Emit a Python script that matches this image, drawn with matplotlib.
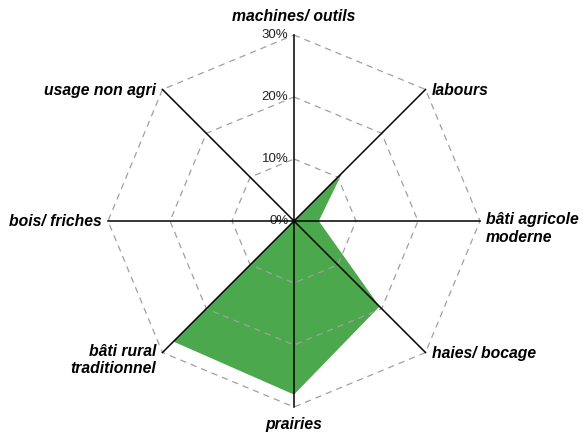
import numpy as np
import matplotlib.pyplot as plt

# radar chart: share of each theme (%)
categories = ["machines/ outils", "labours", "bâti agricole\nmoderne", "haies/ bocage",
              "prairies", "bâti rural\ntraditionnel", "bois/ friches", "usage non agri"]
values = [0, 11, 4, 19.5, 28, 27.5, 0, 0]
rings = [10, 20, 30]
ring_labels = ["0%", "10%", "20%", "30%"]

rmax = rings[-1]
n = len(categories)
# clockwise from the top
ang = np.pi / 2 - np.arange(n) * 2 * np.pi / n
cx, sy = np.cos(ang), np.sin(ang)

fig = plt.figure(figsize=(5.84, 4.38), dpi=100)
ax = fig.add_axes([0, 0, 1, 1])
scale = 6.2  # px per unit
ax.set_xlim(-294 / scale, (584 - 294) / scale)
ax.set_ylim(-(438 - 221) / scale, 221 / scale)
ax.axis("off")

# dashed octagon rings
for r in rings:
    ax.plot(np.append(cx, cx[0]) * r, np.append(sy, sy[0]) * r,
            color="#a0a0a0", lw=0.9, ls=(0, (5, 4)), zorder=3)

# spokes
for i in range(n):
    ax.plot([0, cx[i] * rmax], [0, sy[i] * rmax], color="black", lw=1.1, zorder=4)

# data polygon
v = np.array(values)
ax.fill(cx * v, sy * v, color=(44 / 255, 153 / 255, 44 / 255), alpha=0.85, lw=0, zorder=2)

# ring labels on the top spoke
for k, lab in enumerate(ring_labels):
    r = k * 10
    ax.text(-0.9, r, lab, ha="right", va="center", fontsize=9.5,
            family="Liberation Sans", color="#222222")

# category labels
lab_font = dict(family="Liberation Sans", fontweight="bold", fontstyle="italic",
                fontsize=11.3, color="black", linespacing=1.2)
off = 1.0
for i, lab in enumerate(categories):
    x, y = cx[i] * rmax, sy[i] * rmax
    if i == 0:
        ax.text(x, y + 3.0, lab, ha="center", va="center", **lab_font)
    elif i == 4:
        ax.text(x, y - 1.6, lab, ha="center", va="top", **lab_font)
    elif i in (1, 3):
        ax.text(x + off, y - 0.2, lab, ha="left", va="center", **lab_font)
    elif i == 2:
        ax.text(x + off, y + 1.4, lab, ha="left", va="top", **lab_font)
    elif i == 5:
        ax.text(x - off, y + 1.4, lab, ha="right", va="top", **lab_font)
    else:
        ax.text(x - off, y - 0.1, lab, ha="right", va="center", **lab_font)

fig.savefig("out.png", dpi=100)
